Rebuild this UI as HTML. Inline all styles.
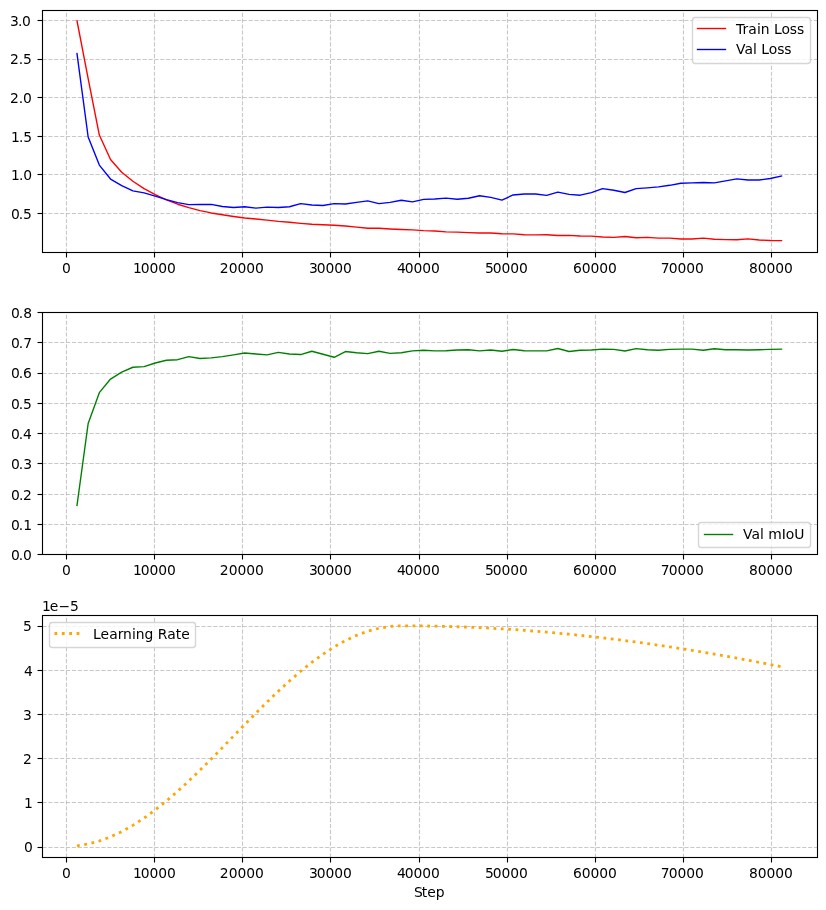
<!DOCTYPE html>
<html><head><meta charset="utf-8"><title>Training curves</title>
<style>html,body{margin:0;padding:0;background:#fff;overflow:hidden}svg{display:block;will-change:transform}</style>
</head><body>
<svg width="826" height="910" viewBox="0 0 826 910">
<style>text{font-family:"DejaVu Sans","Liberation Sans",sans-serif;font-size:13.889px;fill:#000}.g{stroke:#b0b0b0;stroke-opacity:.7;stroke-width:1.111;stroke-dasharray:4.111 1.778;fill:none}.t{stroke:#000;stroke-width:1.111;fill:none}.s{stroke:#000;stroke-width:1.111;fill:none;stroke-linejoin:miter}.l{fill:none;stroke-width:1.389;stroke-linejoin:round;stroke-linecap:square}.d{fill:none;stroke:#ffa500;stroke-width:2.778;stroke-dasharray:2.778 4.583;stroke-linejoin:round}.lg{fill:#fff;fill-opacity:.8;stroke:#ccc;stroke-opacity:.8;stroke-width:1.389}</style>
<rect width="826" height="910" fill="#fff"/>
<path class="g" d="M66.5 252.5 V10.5"/>
<path class="g" d="M154.5 252.5 V10.5"/>
<path class="g" d="M242.5 252.5 V10.5"/>
<path class="g" d="M330.5 252.5 V10.5"/>
<path class="g" d="M419.5 252.5 V10.5"/>
<path class="g" d="M507.5 252.5 V10.5"/>
<path class="g" d="M595.5 252.5 V10.5"/>
<path class="g" d="M683.5 252.5 V10.5"/>
<path class="g" d="M771.5 252.5 V10.5"/>
<path class="g" d="M42.5 213.5 H817.5"/>
<path class="g" d="M42.5 174.5 H817.5"/>
<path class="g" d="M42.5 136.5 H817.5"/>
<path class="g" d="M42.5 97.5 H817.5"/>
<path class="g" d="M42.5 59.5 H817.5"/>
<path class="g" d="M42.5 20.5 H817.5"/>
<path class="l" stroke="#f00" d="M76.98 20.72 L88.16 78.72 L99.34 135.06 L110.53 159.53 L121.71 172.19 L132.89 181.29 L144.08 188.63 L155.26 194.65 L166.44 199.97 L177.63 204.22 L188.81 207.69 L199.99 210.62 L211.18 212.94 L222.36 214.79 L233.54 216.49 L244.73 217.95 L255.91 219.03 L267.09 220.11 L278.28 221.43 L289.46 222.28 L300.64 223.36 L311.83 224.21 L323.01 224.75 L334.19 225.29 L345.38 225.98 L356.56 227.14 L367.74 228.22 L378.93 228.22 L390.11 228.99 L401.29 229.53 L412.48 229.92 L423.66 230.61 L434.84 231 L446.03 231.92 L457.21 232.08 L468.39 232.62 L479.58 233 L490.76 233 L501.94 233.78 L513.13 233.93 L524.31 234.78 L535.49 234.86 L546.68 234.78 L557.86 235.55 L569.04 235.4 L580.23 235.94 L591.41 236.09 L602.59 237.02 L613.78 237.4 L624.96 236.48 L636.14 237.79 L647.33 237.4 L658.51 238.17 L669.69 238.17 L680.88 239.02 L692.06 239.02 L703.24 238.1 L714.43 239.26 L725.61 239.64 L736.79 239.8 L747.98 238.87 L759.16 239.95 L770.34 240.49 L781.53 240.57"/>
<path class="l" stroke="#00f" d="M76.98 53.64 L88.16 136.99 L99.34 165.09 L110.53 179.05 L121.71 185.69 L132.89 190.86 L144.08 192.87 L155.26 196.19 L166.44 199.66 L177.63 202.59 L188.81 204.6 L199.99 204.45 L211.18 204.37 L222.36 206.45 L233.54 207.46 L244.73 206.76 L255.91 208.15 L267.09 207.15 L278.28 207.46 L289.46 206.76 L300.64 203.6 L311.83 204.99 L323.01 205.45 L334.19 203.6 L345.38 203.98 L356.56 202.36 L367.74 200.82 L378.93 203.6 L390.11 202.36 L401.29 200.2 L412.48 201.9 L423.66 199.43 L434.84 199.04 L446.03 198.12 L457.21 199.2 L468.39 198.27 L479.58 195.73 L490.76 197.35 L501.94 200.13 L513.13 194.95 L524.31 193.95 L535.49 193.95 L546.68 195.34 L557.86 192.1 L569.04 194.41 L580.23 195.19 L591.41 192.64 L602.59 188.63 L613.78 190.25 L624.96 192.48 L636.14 188.63 L647.33 187.85 L658.51 186.93 L669.69 185.31 L680.88 183.3 L692.06 182.91 L703.24 182.53 L714.43 182.84 L725.61 180.91 L736.79 178.9 L747.98 179.98 L759.16 179.98 L770.34 178.51 L781.53 175.97"/>
<path class="t" d="M66.5 252.5 v5"/>
<text x="62.05" y="273">0</text>
<path class="t" d="M154.5 252.5 v5"/>
<text x="132.92 140.83 149.58 158.33 167" y="273">10000</text>
<path class="t" d="M242.5 252.5 v5"/>
<text x="219.84 228.68 237.52 246.27 255.02" y="273">20000</text>
<path class="t" d="M330.5 252.5 v5"/>
<text x="308.96 316.74 325.58 334.33 342.99" y="273">30000</text>
<path class="t" d="M419.5 252.5 v5"/>
<text x="396.91 404.7 413.62 422.37 431.12" y="273">40000</text>
<path class="t" d="M507.5 252.5 v5"/>
<text x="484.91 492.7 501.53 510.28 518.95" y="273">50000</text>
<path class="t" d="M595.5 252.5 v5"/>
<text x="572.93 581.81 590.56 599.31 608.06" y="273">60000</text>
<path class="t" d="M683.5 252.5 v5"/>
<text x="660.85 668.64 677.39 686.14 694.89" y="273">70000</text>
<path class="t" d="M771.5 252.5 v5"/>
<text x="749.05 757.66 766.41 775.16 783.91" y="273">80000</text>
<path class="t" d="M42.5 213.5 h-5"/>
<text x="10.89 18.68 22.88" y="219">0.5</text>
<path class="t" d="M42.5 174.5 h-5"/>
<text x="11.04 18.95 23.32" y="180">1.0</text>
<path class="t" d="M42.5 136.5 h-5"/>
<text x="10.88 18.88 23.26" y="142">1.5</text>
<path class="t" d="M42.5 97.5 h-5"/>
<text x="9.96 18.79 22.99" y="103">2.0</text>
<path class="t" d="M42.5 59.5 h-5"/>
<text x="9.96 18.79 23.08" y="64">2.5</text>
<path class="t" d="M42.5 20.5 h-5"/>
<text x="10.02 17.99 22.1" y="26">3.0</text>
<rect class="s" x="42.5" y="10.5" width="775" height="242"/>
<rect class="lg" x="692.5" y="17.5" width="118" height="46" rx="2.78"/>
<path class="l" stroke="#f00" d="M697.5 28.5 H725.5"/>
<text x="735.95 742.45 748.29 756.92 760.7 769.01 773.92 781.42 789.74 796.95" y="34">Train Loss</text>
<path class="l" stroke="#00f" d="M697.5 49.5 H725.5"/>
<text x="735.88 744.44 752.88 756.06 761.13 768.63 777.13 784.26" y="54">Val Loss</text>
<path class="g" d="M66.5 554.5 V312.5"/>
<path class="g" d="M154.5 554.5 V312.5"/>
<path class="g" d="M242.5 554.5 V312.5"/>
<path class="g" d="M330.5 554.5 V312.5"/>
<path class="g" d="M419.5 554.5 V312.5"/>
<path class="g" d="M507.5 554.5 V312.5"/>
<path class="g" d="M595.5 554.5 V312.5"/>
<path class="g" d="M683.5 554.5 V312.5"/>
<path class="g" d="M771.5 554.5 V312.5"/>
<path class="g" d="M42.5 554.5 H817.5"/>
<path class="g" d="M42.5 524.5 H817.5"/>
<path class="g" d="M42.5 494.5 H817.5"/>
<path class="g" d="M42.5 463.5 H817.5"/>
<path class="g" d="M42.5 433.5 H817.5"/>
<path class="g" d="M42.5 403.5 H817.5"/>
<path class="g" d="M42.5 373.5 H817.5"/>
<path class="g" d="M42.5 342.5 H817.5"/>
<path class="g" d="M42.5 312.5 H817.5"/>
<path class="l" stroke="#008000" d="M76.98 505.5 L88.16 423.52 L99.34 392.66 L110.53 379.05 L121.71 372.09 L132.89 367.25 L144.08 366.65 L155.26 363.02 L166.44 360.29 L177.63 359.69 L188.81 356.66 L199.99 358.48 L211.18 357.88 L222.36 356.66 L233.54 354.85 L244.73 353.03 L255.91 353.94 L267.09 354.85 L278.28 352.43 L289.46 353.94 L300.64 354.55 L311.83 351.22 L323.01 354.25 L334.19 357.27 L345.38 351.52 L356.56 352.73 L367.74 353.64 L378.93 351.22 L390.11 353.34 L401.29 352.73 L412.48 350.92 L423.66 350.31 L434.84 350.92 L446.03 350.77 L457.21 350.01 L468.39 349.71 L479.58 350.92 L490.76 350.01 L501.94 351.22 L513.13 349.56 L524.31 350.77 L535.49 350.92 L546.68 350.92 L557.86 348.5 L569.04 351.52 L580.23 350.31 L591.41 350.01 L602.59 349.1 L613.78 349.4 L624.96 351.04 L636.14 348.65 L647.33 349.71 L658.51 350.31 L669.69 349.4 L680.88 349.1 L692.06 349.1 L703.24 350.31 L714.43 348.8 L725.61 349.71 L736.79 349.71 L747.98 350.01 L759.16 349.71 L770.34 349.4 L781.53 349.1"/>
<path class="t" d="M66.5 554.5 v5"/>
<text x="62.05" y="575">0</text>
<path class="t" d="M154.5 554.5 v5"/>
<text x="132.92 140.83 149.58 158.33 167" y="575">10000</text>
<path class="t" d="M242.5 554.5 v5"/>
<text x="219.84 228.68 237.52 246.27 255.02" y="575">20000</text>
<path class="t" d="M330.5 554.5 v5"/>
<text x="308.96 316.74 325.58 334.33 342.99" y="575">30000</text>
<path class="t" d="M419.5 554.5 v5"/>
<text x="396.91 404.7 413.62 422.37 431.12" y="575">40000</text>
<path class="t" d="M507.5 554.5 v5"/>
<text x="484.91 492.7 501.53 510.28 518.95" y="575">50000</text>
<path class="t" d="M595.5 554.5 v5"/>
<text x="572.93 581.81 590.56 599.31 608.06" y="575">60000</text>
<path class="t" d="M683.5 554.5 v5"/>
<text x="660.85 668.64 677.39 686.14 694.89" y="575">70000</text>
<path class="t" d="M771.5 554.5 v5"/>
<text x="749.05 757.66 766.41 775.16 783.91" y="575">80000</text>
<path class="t" d="M42.5 554.5 h-5"/>
<text x="10.95 18.82 23.02" y="560">0.0</text>
<path class="t" d="M42.5 524.5 h-5"/>
<text x="10.94 18.72 23.19" y="530">0.1</text>
<path class="t" d="M42.5 494.5 h-5"/>
<text x="10.89 19.03 23.05" y="500">0.2</text>
<path class="t" d="M42.5 463.5 h-5"/>
<text x="10.91 18.78 23.15" y="469">0.3</text>
<path class="t" d="M42.5 433.5 h-5"/>
<text x="10.91 18.7 23.08" y="439">0.4</text>
<path class="t" d="M42.5 403.5 h-5"/>
<text x="10.89 18.68 22.88" y="409">0.5</text>
<path class="t" d="M42.5 373.5 h-5"/>
<text x="10.9 18.69 23.07" y="378">0.6</text>
<path class="t" d="M42.5 342.5 h-5"/>
<text x="10.92 18.79 23.17" y="348">0.7</text>
<path class="t" d="M42.5 312.5 h-5"/>
<text x="10.93 18.8 23.17" y="318">0.8</text>
<rect class="s" x="42.5" y="312.5" width="775" height="242"/>
<rect class="lg" x="698.5" y="522.5" width="112" height="25" rx="2.78"/>
<path class="l" stroke="#008000" d="M704.5 534.5 H732.5"/>
<text x="742.92 751.39 759.92 763.1 768.17 781.67 785.67 794.26" y="539">Val mIoU</text>
<path class="g" d="M66.5 857.5 V615.5"/>
<path class="g" d="M154.5 857.5 V615.5"/>
<path class="g" d="M242.5 857.5 V615.5"/>
<path class="g" d="M330.5 857.5 V615.5"/>
<path class="g" d="M419.5 857.5 V615.5"/>
<path class="g" d="M507.5 857.5 V615.5"/>
<path class="g" d="M595.5 857.5 V615.5"/>
<path class="g" d="M683.5 857.5 V615.5"/>
<path class="g" d="M771.5 857.5 V615.5"/>
<path class="g" d="M42.5 847.5 H817.5"/>
<path class="g" d="M42.5 802.5 H817.5"/>
<path class="g" d="M42.5 758.5 H817.5"/>
<path class="g" d="M42.5 714.5 H817.5"/>
<path class="g" d="M42.5 670.5 H817.5"/>
<path class="g" d="M42.5 626.5 H817.5"/>
<path class="d" d="M76.98 845.8 L88.16 843.99 L99.34 841.01 L110.53 836.87 L121.71 831.63 L132.89 825.34 L144.08 818.07 L155.26 809.91 L166.44 800.94 L177.63 791.25 L188.81 780.97 L199.99 770.19 L211.18 759.04 L222.36 747.63 L233.54 736.1 L244.73 724.57 L255.91 713.17 L267.09 702.02 L278.28 691.24 L289.46 680.95 L300.64 671.27 L311.83 662.3 L323.01 654.13 L334.19 646.87 L345.38 640.58 L356.56 635.34 L367.74 631.2 L378.93 628.21 L390.11 626.4 L401.29 625.8 L412.48 625.84 L423.66 625.95 L434.84 626.14 L446.03 626.4 L457.21 626.74 L468.39 627.16 L479.58 627.65 L490.76 628.21 L501.94 628.85 L513.13 629.56 L524.31 630.35 L535.49 631.2 L546.68 632.13 L557.86 633.13 L569.04 634.2 L580.23 635.34 L591.41 636.55 L602.59 637.83 L613.78 639.18 L624.96 640.59 L636.14 642.06 L647.33 643.61 L658.51 645.21 L669.69 646.88 L680.88 648.61 L692.06 650.4 L703.24 652.25 L714.43 654.15 L725.61 656.11 L736.79 658.13 L747.98 660.2 L759.16 662.32 L770.34 664.49 L781.53 666.71"/>
<path class="t" d="M66.5 857.5 v5"/>
<text x="62.05" y="878">0</text>
<path class="t" d="M154.5 857.5 v5"/>
<text x="132.92 140.83 149.58 158.33 167" y="878">10000</text>
<path class="t" d="M242.5 857.5 v5"/>
<text x="219.84 228.68 237.52 246.27 255.02" y="878">20000</text>
<path class="t" d="M330.5 857.5 v5"/>
<text x="308.96 316.74 325.58 334.33 342.99" y="878">30000</text>
<path class="t" d="M419.5 857.5 v5"/>
<text x="396.91 404.7 413.62 422.37 431.12" y="878">40000</text>
<path class="t" d="M507.5 857.5 v5"/>
<text x="484.91 492.7 501.53 510.28 518.95" y="878">50000</text>
<path class="t" d="M595.5 857.5 v5"/>
<text x="572.93 581.81 590.56 599.31 608.06" y="878">60000</text>
<path class="t" d="M683.5 857.5 v5"/>
<text x="660.85 668.64 677.39 686.14 694.89" y="878">70000</text>
<path class="t" d="M771.5 857.5 v5"/>
<text x="749.05 757.66 766.41 775.16 783.91" y="878">80000</text>
<path class="t" d="M42.5 847.5 h-5"/>
<text x="24.04" y="852">0</text>
<path class="t" d="M42.5 802.5 h-5"/>
<text x="23.97" y="808">1</text>
<path class="t" d="M42.5 758.5 h-5"/>
<text x="22.92" y="764">2</text>
<path class="t" d="M42.5 714.5 h-5"/>
<text x="23.08" y="720">3</text>
<path class="t" d="M42.5 670.5 h-5"/>
<text x="23.95" y="676">4</text>
<path class="t" d="M42.5 626.5 h-5"/>
<text x="23" y="631">5</text>
<rect class="s" x="42.5" y="615.5" width="775" height="242"/>
<text x="42.02 49.85 58.43 69.97" y="611">1e−5</text>
<text x="413.92 421.8 427.3 435.8" y="897">Step</text>
<rect class="lg" x="49.5" y="622.5" width="146" height="25" rx="2.78"/>
<path class="d" d="M54.5 633.5 H82.5"/>
<text x="93.11 100.61 109.29 117.83 123.06 132.08 135.86 144.53 154.19 157.78 167.33 175.86 181.36" y="639">Learning Rate</text>
</svg>
</body></html>
